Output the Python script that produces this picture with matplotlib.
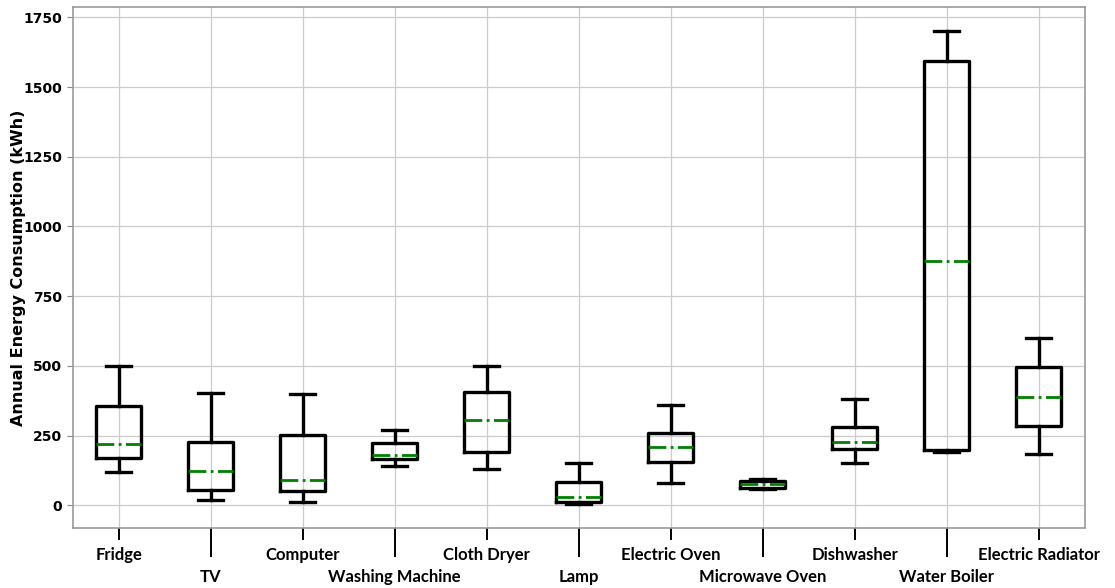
import numpy as np
import matplotlib
matplotlib.use("Agg")
from matplotlib import pyplot as plt

# appareils et statistiques (kWh / an)
appliances = ["Fridge", "TV", "Computer", "Washing Machine", "Cloth Dryer", "Lamp",
              "Electric Oven", "Microwave Oven", "Dishwasher", "Water Boiler",
              "Electric Radiator"]
whislo = [119, 21, 12, 141, 129, 6, 80, 60, 151, 192, 183]
q1 = [171, 56, 50, 165, 192, 12, 156, 64, 202, 199, 285]
med = [221, 122, 91, 181, 305, 29, 211, 76, 226, 878, 390]
q3 = [357, 227, 251, 222, 408, 85, 260, 86, 282, 1593, 497]
whishi = [500, 403, 401, 271, 500, 153, 359, 93, 382, 1700, 600]

stats = []
for i, name in enumerate(appliances):
    stats.append({"label": name, "whislo": whislo[i], "q1": q1[i], "med": med[i],
                  "q3": q3[i], "whishi": whishi[i], "fliers": []})

fig = plt.figure(figsize=(11.15, 5.88), dpi=100)
ax = fig.add_axes([0.0652, 0.1026, 0.9078, 0.885])

positions = np.arange(1, len(appliances) + 1)
ax.bxp(stats, positions=positions, widths=0.49, capwidths=0.27, showfliers=False,
       boxprops=dict(color="black", linewidth=2.4),
       whiskerprops=dict(color="black", linewidth=2.4),
       capprops=dict(color="black", linewidth=2.4),
       medianprops=dict(color="green", linewidth=2.0, linestyle="-."))

# etiquettes en quinconce : majeures (paires) et mineures (impaires)
even = positions[0::2]
odd = positions[1::2]
ax.set_xticks(even, appliances[0::2])
ax.set_xticks(odd, appliances[1::2], minor=True)
ax.tick_params(axis="x", which="major", length=8.6, width=1.4, color="black", pad=5)
ax.tick_params(axis="x", which="minor", length=21, width=1.4, color="black", pad=8.5)
for lab in ax.get_xticklabels() + ax.get_xticklabels(minor=True):
    lab.set_fontfamily("Lato")
    lab.set_fontweight("bold")
    lab.set_fontsize(12)

ax.set_yticks([0, 250, 500, 750, 1000, 1250, 1500, 1750])
ax.tick_params(axis="y", length=4, color="#888888")
for lab in ax.get_yticklabels():
    lab.set_fontweight("bold")
    lab.set_fontsize(10)

ax.set_ylabel("Annual Energy Consumption (kWh)", fontsize=11.5, fontweight="bold")
ax.yaxis.set_label_coords(-0.046, 0.5)
ax.set_xlim(0.5, 11.5)
ax.set_ylim(-80, 1786)

ax.grid(True, which="both", color="#cccccc", linewidth=0.9)
ax.set_axisbelow(True)
for s in ax.spines.values():
    s.set_color("#999999")
    s.set_linewidth(1.2)

plt.savefig("out.png", dpi=100)
